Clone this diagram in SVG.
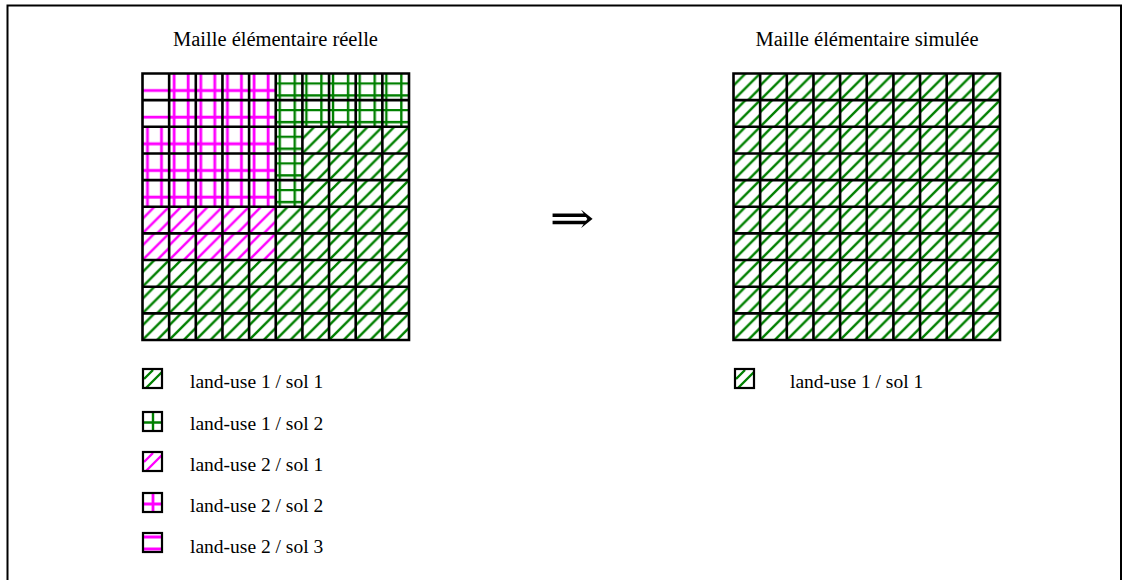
<svg xmlns="http://www.w3.org/2000/svg" width="1129" height="580" viewBox="0 0 1129 580">
<style>
.t{font-family:"Liberation Serif","Times New Roman",serif;fill:#000}
.grid{fill:none;stroke:#000;stroke-width:2.6}
.ib{fill:none;stroke:#000;stroke-width:2.2}
.g{stroke:#008000;stroke-width:2.4;fill:none}
.m{stroke:#ff00ff;stroke-width:2.8;fill:none}
.lt{font-size:19.5px}
</style>
<defs>
<pattern id="hgL" patternUnits="userSpaceOnUse" x="142.5" y="73.5" width="26.65" height="26.65"><path class="g" d="M-1 13L13 -1M-1 27.65L27.65 -1M13.65 27.65L27.65 13.65"/></pattern>
<pattern id="hgR" patternUnits="userSpaceOnUse" x="733.5" y="73.5" width="26.65" height="26.65"><path class="g" d="M-1 13L13 -1M-1 27.65L27.65 -1M13.65 27.65L27.65 13.65"/></pattern>
<pattern id="hm" patternUnits="userSpaceOnUse" x="142.5" y="73.5" width="26.65" height="26.65"><path class="m" style="stroke-width:2.4" d="M-1 13L13 -1M-1 27.65L27.65 -1M13.65 27.65L27.65 13.65"/></pattern>
<pattern id="cm" patternUnits="userSpaceOnUse" x="142.5" y="73.5" width="26.65" height="26.65"><path class="m" d="M5 0V26.65M19 0V26.65M0 17H26.65"/></pattern>
<pattern id="cg" patternUnits="userSpaceOnUse" x="142.5" y="73.5" width="26.65" height="26.65"><path class="g" d="M4 0V26.65M19 0V26.65M0 10H26.65M0 22H26.65"/></pattern>
<pattern id="zm" patternUnits="userSpaceOnUse" x="142.5" y="73.5" width="26.65" height="26.65"><path class="m" d="M0 17H26.65"/></pattern>
</defs>
<rect x="7.5" y="5.5" width="1113.5" height="600" fill="none" stroke="#000" stroke-width="2"/>
<text class="t" x="275.5" y="46" font-size="20.5" text-anchor="middle">Maille élémentaire réelle</text>
<text class="t" x="867" y="46" font-size="20.5" text-anchor="middle">Maille élémentaire simulée</text>
<g id="grid-reelle">
<rect x="142.5" y="73.5" width="26.65" height="53.3" fill="url(#zm)"/>
<rect x="169.15" y="73.5" width="106.6" height="53.3" fill="url(#cm)"/>
<rect x="142.5" y="126.8" width="133.25" height="79.95" fill="url(#cm)"/>
<rect x="275.75" y="73.5" width="133.25" height="53.3" fill="url(#cg)"/>
<rect x="275.75" y="126.8" width="26.65" height="79.95" fill="url(#cg)"/>
<rect x="302.4" y="126.8" width="106.6" height="79.95" fill="url(#hgL)"/>
<rect x="275.75" y="206.75" width="133.25" height="53.3" fill="url(#hgL)"/>
<rect x="142.5" y="260.05" width="266.5" height="79.95" fill="url(#hgL)"/>
<rect x="142.5" y="206.75" width="133.25" height="53.3" fill="url(#hm)"/>
<path class="grid" d="M142.5 73.5V340M169.15 73.5V340M195.8 73.5V340M222.45 73.5V340M249.1 73.5V340M275.75 73.5V340M302.4 73.5V340M329.05 73.5V340M355.7 73.5V340M382.35 73.5V340M409 73.5V340M141.2 73.5H410.3M141.2 100.15H410.3M141.2 126.8H410.3M141.2 153.45H410.3M141.2 180.1H410.3M141.2 206.75H410.3M141.2 233.4H410.3M141.2 260.05H410.3M141.2 286.7H410.3M141.2 313.35H410.3M141.2 340H410.3"/>
</g>
<g id="fleche"><text class="t" x="572" y="233" font-size="44" text-anchor="middle" style="font-family:'DejaVu Serif','DejaVu Sans',serif" transform="translate(572 0) scale(1.22 1) translate(-572 0)">⇒</text></g>
<g id="grid-simulee">
<rect x="733.5" y="73.5" width="266.5" height="266.5" fill="url(#hgR)"/>
<path class="grid" d="M733.5 73.5V340M760.15 73.5V340M786.8 73.5V340M813.45 73.5V340M840.1 73.5V340M866.75 73.5V340M893.4 73.5V340M920.05 73.5V340M946.7 73.5V340M973.35 73.5V340M1000 73.5V340M732.2 73.5H1001.3M732.2 100.15H1001.3M732.2 126.8H1001.3M732.2 153.45H1001.3M732.2 180.1H1001.3M732.2 206.75H1001.3M732.2 233.4H1001.3M732.2 260.05H1001.3M732.2 286.7H1001.3M732.2 313.35H1001.3M732.2 340H1001.3"/>
</g>
<g id="legende-reelle">
<g id="leg1" transform="translate(143 369)"><path class="g" d="M1 10L10 1M3 19L19 3"/><rect class="ib" x="0" y="0" width="19" height="19"/></g>
<text class="t lt" x="190" y="388">land-use 1 / sol 1</text>
<g id="leg2" transform="translate(143 412)"><path class="g" d="M10 0V19M0 10.5H19"/><rect class="ib" x="0" y="0" width="19" height="19"/></g>
<text class="t lt" x="190" y="430">land-use 1 / sol 2</text>
<g id="leg3" transform="translate(143 452)"><path class="m" style="stroke-width:2.4" d="M1 10L10 1M3 19L19 3"/><rect class="ib" x="0" y="0" width="19" height="19"/></g>
<text class="t lt" x="190" y="471">land-use 2 / sol 1</text>
<g id="leg4" transform="translate(143 493)"><path class="m" d="M10 0V19M0 11H19"/><rect class="ib" x="0" y="0" width="19" height="19"/></g>
<text class="t lt" x="190" y="512">land-use 2 / sol 2</text>
<g id="leg5" transform="translate(143 533)"><path class="m" d="M0 4H19M0 16H19"/><rect class="ib" x="0" y="0" width="19" height="19"/></g>
<text class="t lt" x="190" y="553">land-use 2 / sol 3</text>
</g>
<g id="legende-simulee">
<g id="leg6" transform="translate(735 369)"><path class="g" d="M1 10L10 1M3 19L19 3"/><rect class="ib" x="0" y="0" width="19" height="19"/></g>
<text class="t lt" x="790" y="388">land-use 1 / sol 1</text>
</g>
</svg>
